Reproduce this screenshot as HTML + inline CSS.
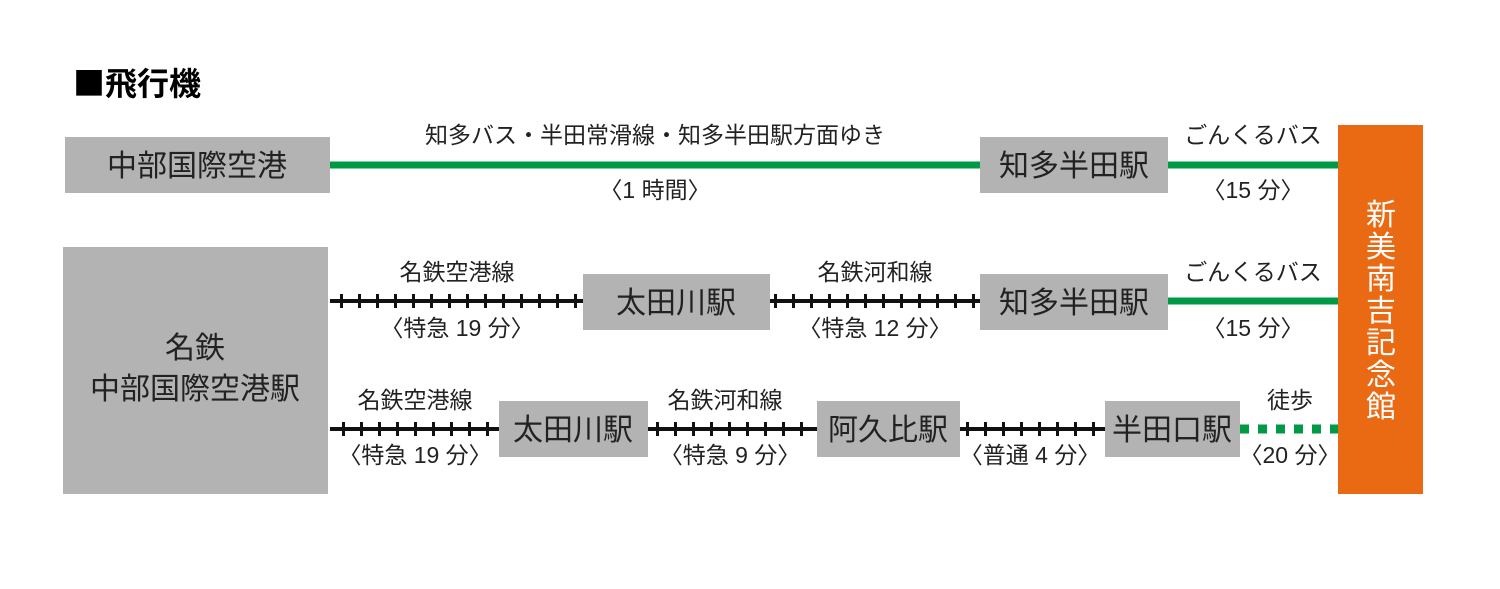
<!DOCTYPE html>
<html><head><meta charset="utf-8"><style>
body{margin:0;background:#fff}
svg text{font-family:"Liberation Sans","Noto Sans CJK JP",sans-serif;fill:#222}
</style></head><body>
<svg width="1500" height="584" viewBox="0 0 1500 584" xmlns="http://www.w3.org/2000/svg">
<text x="73" y="95" font-size="32" font-weight="bold" style="font-family:'Noto Sans CJK JP',sans-serif;fill:#000">■飛行機</text>
<g fill="#b3b3b3">
<rect x="65" y="137" width="265" height="56"/>
<rect x="980" y="137" width="188" height="56"/>
<rect x="63" y="247" width="265" height="247"/>
<rect x="583" y="274" width="187" height="56"/>
<rect x="980" y="274" width="188" height="56"/>
<rect x="499" y="401" width="149" height="56"/>
<rect x="817" y="401" width="143" height="56"/>
<rect x="1105" y="401" width="135" height="56"/>
</g>
<rect x="1338" y="125" width="85" height="369" fill="#ea6a14"/>
<g stroke="#009944" stroke-width="7">
<line x1="330" y1="165" x2="980" y2="165"/>
<line x1="1168" y1="165" x2="1338" y2="165"/>
<line x1="1168" y1="301" x2="1338" y2="301"/>
<line x1="1240" y1="429" x2="1338" y2="429" stroke-width="9" stroke-dasharray="9 9"/>
</g>
<g stroke="#111">
<line x1="330" y1="301" x2="583" y2="301" stroke-width="4"/>
<line x1="340" y1="301" x2="583" y2="301" stroke-width="14" stroke-dasharray="3 15"/>
<line x1="770" y1="301" x2="980" y2="301" stroke-width="4"/>
<line x1="774" y1="301" x2="980" y2="301" stroke-width="14" stroke-dasharray="3 15"/>
<line x1="330" y1="429" x2="499" y2="429" stroke-width="4"/>
<line x1="342" y1="429" x2="499" y2="429" stroke-width="14" stroke-dasharray="3 15"/>
<line x1="648" y1="429" x2="817" y2="429" stroke-width="4"/>
<line x1="656" y1="429" x2="817" y2="429" stroke-width="14" stroke-dasharray="3 15"/>
<line x1="960" y1="429" x2="1105" y2="429" stroke-width="4"/>
<line x1="966" y1="429" x2="1105" y2="429" stroke-width="14" stroke-dasharray="3 15"/>
</g>
<g font-size="30" text-anchor="middle">
<text x="197" y="176">中部国際空港</text>
<text x="1074" y="176">知多半田駅</text>
<text x="195" y="358">名鉄</text>
<text x="195" y="399">中部国際空港駅</text>
<text x="676" y="313">太田川駅</text>
<text x="1074" y="313">知多半田駅</text>
<text x="573" y="440">太田川駅</text>
<text x="888" y="440">阿久比駅</text>
<text x="1172" y="440">半田口駅</text>
</g>
<g font-size="30" text-anchor="middle">
<text x="1381" y="225" style="fill:#fff">新</text>
<text x="1381" y="257" style="fill:#fff">美</text>
<text x="1381" y="289" style="fill:#fff">南</text>
<text x="1381" y="321" style="fill:#fff">吉</text>
<text x="1381" y="353" style="fill:#fff">記</text>
<text x="1381" y="385" style="fill:#fff">念</text>
<text x="1381" y="417" style="fill:#fff">館</text>
</g>
<g font-size="23" text-anchor="middle">
<text x="655" y="143">知多バス・半田常滑線・知多半田駅方面ゆき</text>
<text x="655" y="198">〈1 時間〉</text>
<text x="1253" y="143">ごんくるバス</text>
<text x="1253" y="198">〈15 分〉</text>
<text x="457" y="280">名鉄空港線</text>
<text x="457" y="336">〈特急 19 分〉</text>
<text x="875" y="280">名鉄河和線</text>
<text x="875" y="336">〈特急 12 分〉</text>
<text x="1253" y="280">ごんくるバス</text>
<text x="1253" y="336">〈15 分〉</text>
<text x="415" y="408">名鉄空港線</text>
<text x="415" y="463">〈特急 19 分〉</text>
<text x="725" y="408">名鉄河和線</text>
<text x="730" y="463">〈特急 9 分〉</text>
<text x="1030" y="463">〈普通 4 分〉</text>
<text x="1290" y="408">徒歩</text>
<text x="1290" y="463">〈20 分〉</text>
</g>
</svg>
</body></html>
